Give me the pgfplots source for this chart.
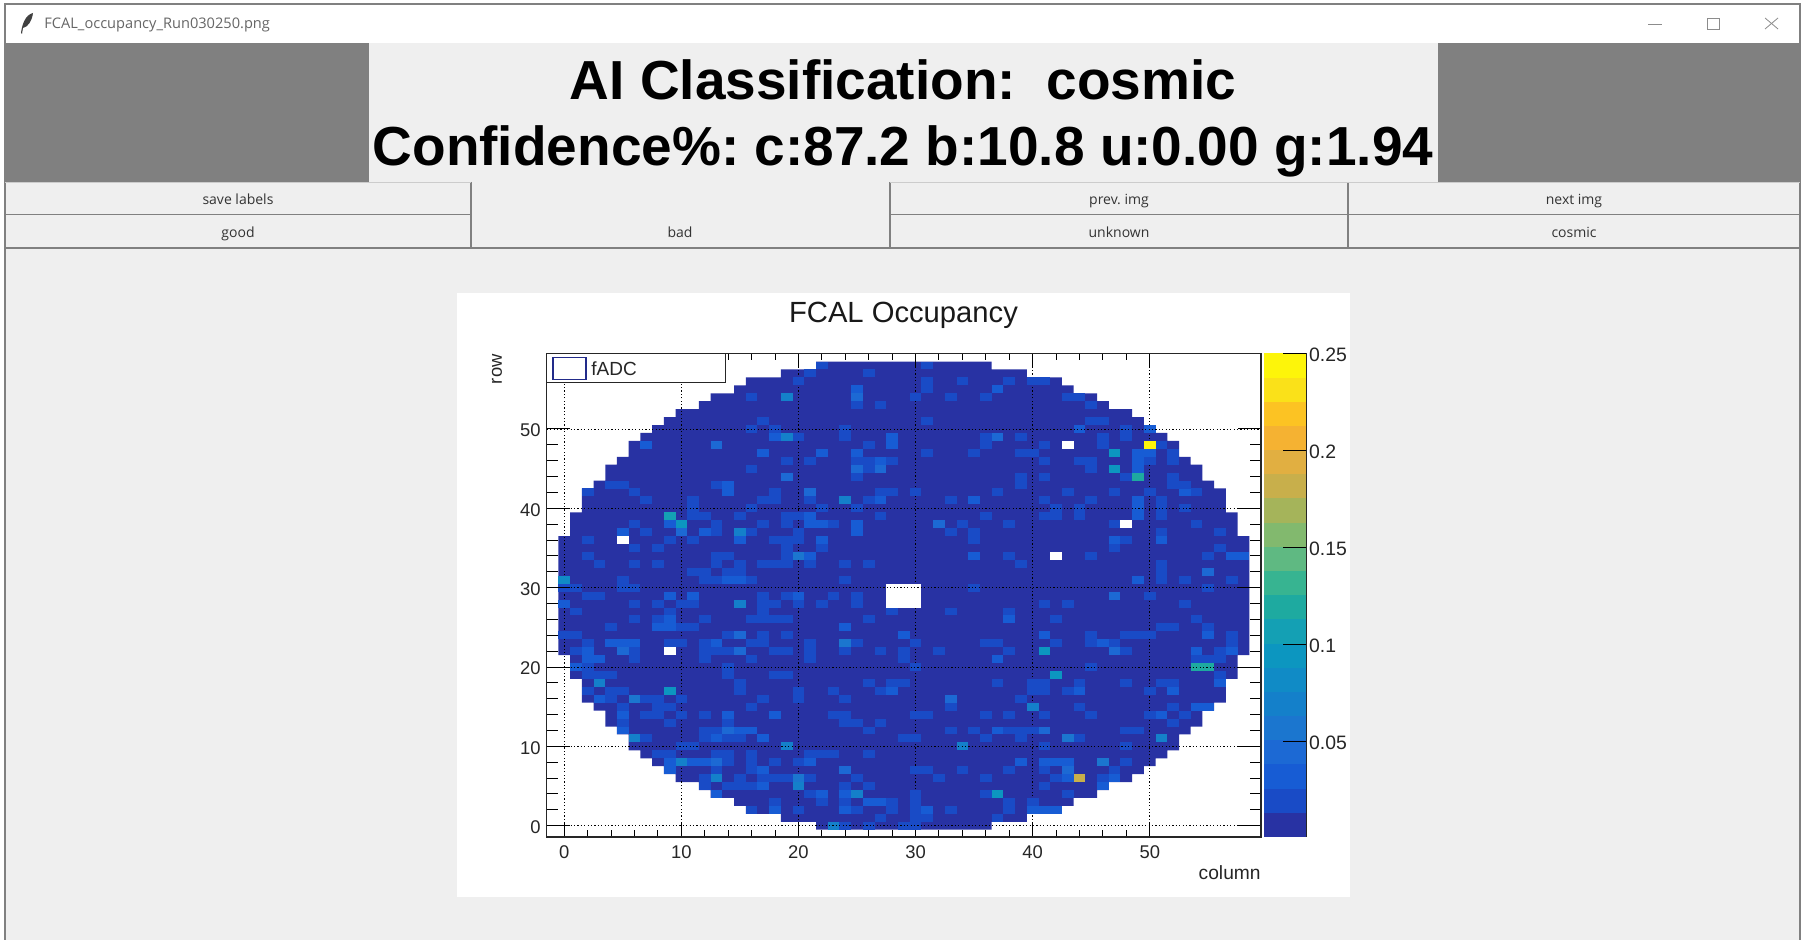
\documentclass[border=0pt]{standalone}
\usepackage{fontspec}
\setmainfont{Liberation Sans}
\newfontfamily\uifont{Open Sans}
\usepackage{pgfplots}
\pgfplotsset{compat=1.18}
\definecolor{b1}{RGB}{40,50,163}\definecolor{b2}{RGB}{25,75,198}\definecolor{b3}{RGB}{23,92,212}\definecolor{b4}{RGB}{28,105,212}
\definecolor{b5}{RGB}{27,118,207}\definecolor{b6}{RGB}{20,128,202}\definecolor{b7}{RGB}{16,139,198}\definecolor{b8}{RGB}{12,150,192}
\definecolor{b9}{RGB}{20,160,180}\definecolor{b10}{RGB}{30,170,160}\definecolor{b11}{RGB}{55,180,145}\definecolor{b12}{RGB}{95,185,130}
\definecolor{b13}{RGB}{130,185,110}\definecolor{b14}{RGB}{165,180,90}\definecolor{b15}{RGB}{200,175,75}\definecolor{b16}{RGB}{225,175,65}
\definecolor{b17}{RGB}{245,178,50}\definecolor{b18}{RGB}{252,195,35}\definecolor{b19}{RGB}{250,225,25}\definecolor{b20}{RGB}{253,245,10}
\definecolor{winbg}{RGB}{239,239,239}\definecolor{gr}{RGB}{128,128,128}
\pgfdeclareplotmark{cell}{\pgfpathrectangle{\pgfpoint{-2.93pt}{-1.985pt}}{\pgfpoint{5.86pt}{3.97pt}}\pgfusepathqfill}
\pgfplotsset{
  rootaxis/.style={at={(273.35pt,51.5pt)},anchor=south west,scale only axis,width=357.15pt,height=241.85pt,
    xmin=-1.5,xmax=59.5,ymin=-1.42,ymax=59.54,axis on top,tick align=inside,
    /pgf/number format/assume math mode=true,
    axis line style={line width=0.6pt,black!85},
    grid style={black,line width=0.45pt,dash pattern=on 0.6pt off 1.1pt},
    minor tick num=4,
    every tick/.style={black,line width=0.5pt},
    tick label style={font=\fontsize{9.2}{10}\selectfont,black!85},
  }
}
\begin{document}
\frenchspacing
\begin{tikzpicture}
\useasboundingbox (0,0) rectangle (902.5pt,470pt);
\begin{scope}[x=0.5pt,y=-0.5pt,yshift=470pt]
\fill[white] (0,0) rectangle (1805,940);
\fill[winbg] (5,43) rectangle (1800,940);
\draw[gr,line width=0.6pt] (5,940)--(5,4)--(1800,4)--(1800,940);
\fill[gr] (5,43) rectangle (369,182);
\fill[gr] (1438,43) rectangle (1800,182);
\foreach \a/\b in {5/471,890/1800}{\draw[gr,line width=0.75pt] (\a,214.5)--(\b,214.5);}
\draw[gr,line width=0.75pt] (5,248)--(1800,248);
\foreach \a in {471,890,1348}{\draw[gr,line width=0.75pt] (\a,182)--(\a,248);}
\draw[gr!40,line width=0.4pt] (5,182)--(471,182) (890,182)--(1800,182);
\fill[black!75] (21,33) .. controls (22,25) and (25,15) .. (33,13) .. controls (32,21) and (28,27) .. (23,28) -- (22,34) -- cycle;
\node[anchor=west,inner sep=0,text=black!60,font=\uifont\fontsize{7.3}{9}\selectfont] at (44,24.5) {FCAL\_occupancy\_Run030250.png};
\draw[black!45,line width=0.4pt] (1648,24)--(1662,24);
\draw[black!45,line width=0.4pt] (1707,18) rectangle (1719,29);
\draw[black!45,line width=0.4pt] (1765,18)--(1778,29) (1765,29)--(1778,18);
\node[inner sep=0,font=\bfseries\fontsize{27.5}{30}\selectfont] at (903,79.5) {AI Classification:\ \ cosmic};
\node[inner sep=0,font=\bfseries\fontsize{27.5}{30}\selectfont] at (903,151.3) {Confidence\%: c:87.2 b:10.8 u:0.00 g:1.94};
\foreach \px/\py/\t in {238/204.5/save labels,1119/204.5/prev. img,1574/204.5/next img,238/238/good,680/238/bad,1119/238/unknown,1574/238/cosmic}{
  \node[anchor=base,inner sep=0,text=black!80,font=\uifont\fontsize{7}{8}\selectfont] at (\px,\py) {\t};}
\fill[white] (457,293) rectangle (1350,897);
\end{scope}
%% main axis: data and x ticks, x grid
\begin{axis}[rootaxis,
  major tick length=7.5pt,minor tick length=3.5pt,
  xtick={0,10,20,30,40,50},ytick=\empty,xmajorgrids,
  xticklabel style={yshift=-1pt},
  colormap={bird}{rgb255=(40,50,163) rgb255=(25,75,198) rgb255=(23,92,212) rgb255=(28,105,212) rgb255=(27,118,207) rgb255=(20,128,202) rgb255=(16,139,198) rgb255=(12,150,192) rgb255=(20,160,180) rgb255=(30,170,160) rgb255=(55,180,145) rgb255=(95,185,130) rgb255=(130,185,110) rgb255=(165,180,90) rgb255=(200,175,75) rgb255=(225,175,65) rgb255=(245,178,50) rgb255=(252,195,35) rgb255=(250,225,25) rgb255=(253,245,10)},
  colormap access=piecewise constant,
  point meta min=0.0005,point meta max=0.25,
]
% occupied region of the detector (lowest occupancy band)
\addplot[fill=b1,draw=none] coordinates {(21.5,-0.5)(36.5,-0.5)(36.5,0.5)(39.5,0.5)(39.5,1.5)(42.5,1.5)(42.5,2.5)(43.5,2.5)(43.5,3.5)(45.5,3.5)(45.5,4.5)(46.5,4.5)(46.5,5.5)(48.5,5.5)(48.5,6.5)(49.5,6.5)(49.5,7.5)(50.5,7.5)(50.5,8.5)(51.5,8.5)(51.5,9.5)(52.5,9.5)(52.5,11.5)(53.5,11.5)(53.5,12.5)(54.5,12.5)(54.5,14.5)(55.5,14.5)(55.5,15.5)(56.5,15.5)(56.5,18.5)(57.5,18.5)(57.5,21.5)(58.5,21.5)(58.5,36.5)(57.5,36.5)(57.5,39.5)(56.5,39.5)(56.5,42.5)(55.5,42.5)(55.5,43.5)(54.5,43.5)(54.5,45.5)(53.5,45.5)(53.5,46.5)(52.5,46.5)(52.5,48.5)(51.5,48.5)(51.5,49.5)(50.5,49.5)(50.5,50.5)(49.5,50.5)(49.5,51.5)(48.5,51.5)(48.5,52.5)(46.5,52.5)(46.5,53.5)(45.5,53.5)(45.5,54.5)(43.5,54.5)(43.5,55.5)(42.5,55.5)(42.5,56.5)(39.5,56.5)(39.5,57.5)(36.5,57.5)(36.5,58.5)(21.5,58.5)(21.5,57.5)(18.5,57.5)(18.5,56.5)(15.5,56.5)(15.5,55.5)(14.5,55.5)(14.5,54.5)(12.5,54.5)(12.5,53.5)(11.5,53.5)(11.5,52.5)(9.5,52.5)(9.5,51.5)(8.5,51.5)(8.5,50.5)(7.5,50.5)(7.5,49.5)(6.5,49.5)(6.5,48.5)(5.5,48.5)(5.5,46.5)(4.5,46.5)(4.5,45.5)(3.5,45.5)(3.5,43.5)(2.5,43.5)(2.5,42.5)(1.5,42.5)(1.5,39.5)(0.5,39.5)(0.5,36.5)(-0.5,36.5)(-0.5,21.5)(0.5,21.5)(0.5,18.5)(1.5,18.5)(1.5,15.5)(2.5,15.5)(2.5,14.5)(3.5,14.5)(3.5,12.5)(4.5,12.5)(4.5,11.5)(5.5,11.5)(5.5,9.5)(6.5,9.5)(6.5,8.5)(7.5,8.5)(7.5,7.5)(8.5,7.5)(8.5,6.5)(9.5,6.5)(9.5,5.5)(11.5,5.5)(11.5,4.5)(12.5,4.5)(12.5,3.5)(14.5,3.5)(14.5,2.5)(15.5,2.5)(15.5,1.5)(18.5,1.5)(18.5,0.5)(21.5,0.5)} --cycle;
% dead channels and beam hole
\addplot[only marks,mark=cell,white] coordinates {(28,28)(29,28)(30,28)(28,29)(29,29)(30,29)(28,30)(29,30)(30,30)(5,36)(43,48)(48,38)(42,34)(9,22)};
% occupied cells above the lowest band
\addplot[scatter,only marks,mark=cell,point meta=explicit] coordinates {
(23,0)[.065](24,0)[.02](26,0)[.02](29,0)[.02](30,0)[.02]
(27,1)[.02](30,1)[.02](31,1)[.02](37,1)[.02]
(16,2)[.02](18,2)[.032](20,2)[.02](24,2)[.032](25,2)[.02](28,2)[.02](30,2)[.02](31,2)[.032](33,2)[.02](38,2)[.02](40,2)[.032](41,2)[.032](42,2)[.032]
(18,3)[.02](22,3)[.02](24,3)[.02](26,3)[.032](27,3)[.032](28,3)[.02](30,3)[.02](38,3)[.02](40,3)[.02]
(13,4)[.032](21,4)[.02](22,4)[.032](24,4)[.032](25,4)[.065](30,4)[.02](36,4)[.02](37,4)[.09](43,4)[.02]
(12,5)[.02](14,5)[.02](15,5)[.02](16,5)[.02](17,5)[.032](20,5)[.07](24,5)[.02](26,5)[.02](41,5)[.02](46,5)[.032]
(12,6)[.02](13,6)[.065](15,6)[.02](17,6)[.02](18,6)[.02](19,6)[.02](20,6)[.055](21,6)[.02](25,6)[.02](32,6)[.02](36,6)[.02](42,6)[.02](43,6)[.032](44,6)[.185](46,6)[.02](47,6)[.032]
(9,7)[.032](13,7)[.02](16,7)[.02](17,7)[.032](24,7)[.05](30,7)[.02](31,7)[.02](34,7)[.02](38,7)[.02](41,7)[.02](43,7)[.045](47,7)[.02]
(9,8)[.032](10,8)[.065](11,8)[.032](12,8)[.032](13,8)[.045](14,8)[.02](16,8)[.02](18,8)[.02](20,8)[.02](21,8)[.032](39,8)[.032](41,8)[.032](42,8)[.032](43,8)[.032](46,8)[.055](48,8)[.02]
(8,9)[.02](9,9)[.02](13,9)[.02](14,9)[.02](16,9)[.02](21,9)[.02](22,9)[.02](23,9)[.02](26,9)[.02]
(10,10)[.02](11,10)[.02](19,10)[.065](34,10)[.07](41,10)[.02](48,10)[.02]
(6,11)[.065](7,11)[.02](12,11)[.02](13,11)[.032](14,11)[.02](15,11)[.02](17,11)[.032](29,11)[.02](30,11)[.02](36,11)[.02](39,11)[.02](43,11)[.055](44,11)[.02](51,11)[.07]
(5,12)[.032](12,12)[.02](13,12)[.02](14,12)[.045](15,12)[.032](16,12)[.032](26,12)[.02](33,12)[.02](35,12)[.02](37,12)[.032](38,12)[.02](39,12)[.02](40,12)[.02](41,12)[.05](48,12)[.02](49,12)[.02]
(5,13)[.02](9,13)[.02](14,13)[.02](24,13)[.02](25,13)[.02](27,13)[.02](52,13)[.02]
(5,14)[.032](7,14)[.02](8,14)[.02](10,14)[.02](12,14)[.02](14,14)[.032](18,14)[.032](23,14)[.02](24,14)[.02](30,14)[.02](31,14)[.02](36,14)[.02](38,14)[.02](41,14)[.02](45,14)[.02](50,14)[.02](51,14)[.032](53,14)[.02]
(5,15)[.02](8,15)[.02](9,15)[.02](16,15)[.02](33,15)[.02](40,15)[.07](44,15)[.02](52,15)[.02](54,15)[.032](55,15)[.032]
(3,16)[.032](4,16)[.02](6,16)[.055](7,16)[.02](8,16)[.02](10,16)[.02](17,16)[.02](20,16)[.02](24,16)[.02](33,16)[.05](39,16)[.02]
(2,17)[.02](4,17)[.02](5,17)[.02](9,17)[.09](15,17)[.02](20,17)[.02](23,17)[.02](27,17)[.02](28,17)[.032](40,17)[.02](41,17)[.02](43,17)[.02](44,17)[.032](50,17)[.02](52,17)[.032]
(3,18)[.065](15,18)[.02](26,18)[.02](28,18)[.02](29,18)[.02](37,18)[.02](40,18)[.02](41,18)[.02](44,18)[.02](48,18)[.02](51,18)[.02](52,18)[.02](56,18)[.032]
(2,19)[.02](3,19)[.02](4,19)[.02](14,19)[.02](18,19)[.02](19,19)[.02](42,19)[.1](56,19)[.02]
(1,20)[.032](2,20)[.02](14,20)[.02](30,20)[.02](45,20)[.02](54,20)[.115](55,20)[.115]
(2,21)[.032](3,21)[.032](6,21)[.02](12,21)[.02](16,21)[.02](21,21)[.02](29,21)[.02](37,21)[.032](54,21)[.02](55,21)[.02](56,21)[.02]
(1,22)[.02](2,22)[.032](5,22)[.05](6,22)[.02](12,22)[.02](13,22)[.02](14,22)[.02](15,22)[.045](18,22)[.02](19,22)[.02](21,22)[.02](24,22)[.02](27,22)[.02](29,22)[.02](32,22)[.02](38,22)[.02](41,22)[.09](47,22)[.045](48,22)[.02](54,22)[.032](56,22)[.02](57,22)[.032]
(2,23)[.02](4,23)[.032](5,23)[.032](6,23)[.032](9,23)[.02](10,23)[.02](12,23)[.02](13,23)[.032](16,23)[.02](17,23)[.02](21,23)[.02](24,23)[.055](25,23)[.02](30,23)[.02](36,23)[.02](37,23)[.02](42,23)[.02](45,23)[.02](46,23)[.032](47,23)[.02](57,23)[.02]
(0,24)[.02](1,24)[.02](14,24)[.02](15,24)[.05](17,24)[.02](19,24)[.02](29,24)[.032](41,24)[.032](45,24)[.02](48,24)[.02](49,24)[.02](50,24)[.02](55,24)[.032](57,24)[.02]
(4,25)[.02](8,25)[.032](9,25)[.032](10,25)[.02](11,25)[.02](24,25)[.032](51,25)[.02](52,25)[.02](55,25)[.02]
(6,26)[.02](8,26)[.02](9,26)[.032](12,26)[.02](16,26)[.02](17,26)[.02](18,26)[.02](19,26)[.02](26,26)[.02](38,26)[.032](42,26)[.02](54,26)[.02]
(1,27)[.02](9,27)[.02](17,27)[.02](28,27)[.02](33,27)[.02](38,27)[.02]
(0,28)[.032](6,28)[.02](8,28)[.02](10,28)[.02](11,28)[.02](15,28)[.065](17,28)[.02](18,28)[.02](20,28)[.02](22,28)[.02](25,28)[.02](41,28)[.02](43,28)[.02](53,28)[.02]
(2,29)[.02](3,29)[.02](9,29)[.032](11,29)[.032](17,29)[.02](19,29)[.02](20,29)[.032](23,29)[.02](25,29)[.02](47,29)[.045](50,29)[.02]
(0,30)[.02](1,30)[.02](5,30)[.02](6,30)[.02](35,30)[.02](55,30)[.02]
(0,31)[.08](5,31)[.02](12,31)[.02](13,31)[.02](14,31)[.032](15,31)[.032](16,31)[.02](24,31)[.02](49,31)[.032](51,31)[.02](53,31)[.02](57,31)[.02]
(11,32)[.02](12,32)[.02](14,32)[.02](15,32)[.02](51,32)[.02](55,32)[.045]
(3,33)[.02](6,33)[.02](8,33)[.02](13,33)[.02](15,33)[.02](17,33)[.02](18,33)[.02](19,33)[.02](21,33)[.02](24,33)[.02](26,33)[.02](39,33)[.02](51,33)[.02]
(2,34)[.02](13,34)[.02](14,34)[.02](19,34)[.02](20,34)[.06](21,34)[.032](35,34)[.032](38,34)[.02](45,34)[.02](55,34)[.02](57,34)[.032](58,34)[.032]
(6,35)[.02](8,35)[.02](19,35)[.02](22,35)[.02](47,35)[.02](56,35)[.02]
(2,36)[.02](9,36)[.02](11,36)[.02](15,36)[.032](18,36)[.02](19,36)[.02](20,36)[.02](22,36)[.032](35,36)[.02](47,36)[.032](48,36)[.02](51,36)[.032]
(5,37)[.032](7,37)[.02](10,37)[.05](12,37)[.032](13,37)[.02](15,37)[.07](16,37)[.02](20,37)[.02](25,37)[.032](33,37)[.02](35,37)[.02](51,37)[.02](56,37)[.02]
(6,38)[.02](9,38)[.032](10,38)[.09](13,38)[.02](17,38)[.02](19,38)[.02](21,38)[.032](22,38)[.032](23,38)[.02](25,38)[.032](32,38)[.05](34,38)[.02](38,38)[.02](47,38)[.02](54,38)[.02]
(9,39)[.11](11,39)[.02](12,39)[.02](15,39)[.02](19,39)[.02](20,39)[.02](21,39)[.032](27,39)[.02](36,39)[.02](41,39)[.02](42,39)[.02](44,39)[.02](49,39)[.032](51,39)[.02]
(11,40)[.02](16,40)[.02](22,40)[.02](25,40)[.02](42,40)[.02](44,40)[.02](49,40)[.032](51,40)[.02](53,40)[.02]
(7,41)[.02](11,41)[.02](17,41)[.02](18,41)[.02](21,41)[.02](24,41)[.07](26,41)[.02](27,41)[.032](33,41)[.02](35,41)[.032](41,41)[.02](45,41)[.02](49,41)[.032](51,41)[.02]
(2,42)[.02](6,42)[.02](14,42)[.032](18,42)[.02](21,42)[.05](27,42)[.02](28,42)[.02](30,42)[.02](37,42)[.02](43,42)[.02](47,42)[.02](50,42)[.02](53,42)[.032](54,42)[.02]
(4,43)[.02](5,43)[.02](13,43)[.02](14,43)[.032](39,43)[.02](52,43)[.02](53,43)[.02]
(19,44)[.05](25,44)[.02](39,44)[.02](41,44)[.02](48,44)[.02](49,44)[.115](52,44)[.02]
(16,45)[.02](25,45)[.05](26,45)[.02](27,45)[.05](45,45)[.02](47,45)[.09](49,45)[.032]
(19,46)[.02](21,46)[.02](25,46)[.02](26,46)[.02](27,46)[.032](28,46)[.02](41,46)[.02](44,46)[.02](45,46)[.02](49,46)[.032](50,46)[.02](52,46)[.02]
(17,47)[.032](22,47)[.032](25,47)[.032](31,47)[.02](35,47)[.02](39,47)[.02](40,47)[.02](47,47)[.09](49,47)[.032](50,47)[.032](52,47)[.02]
(7,48)[.032](13,48)[.05](26,48)[.02](28,48)[.032](36,48)[.02](41,48)[.02](46,48)[.02](50,48)[.245](51,48)[.02]
(18,49)[.032](19,49)[.07](20,49)[.02](24,49)[.02](28,49)[.032](36,49)[.02](37,49)[.045](39,49)[.02](46,49)[.02](48,49)[.02]
(16,50)[.02](18,50)[.02](24,50)[.02](44,50)[.032](48,50)[.02](50,50)[.032]
(17,51)[.02](31,51)[.02](45,51)[.02](46,51)[.02]
(25,53)[.02](27,53)[.02](45,53)[.02]
(16,54)[.02](19,54)[.075](25,54)[.05](30,54)[.02](33,54)[.02](36,54)[.02](43,54)[.02](44,54)[.02]
(25,55)[.032](31,55)[.02](37,55)[.032]
(20,56)[.02](31,56)[.02](34,56)[.02](38,56)[.02](40,56)[.02](41,56)[.02]
(21,57)[.02](26,57)[.02]
(22,58)[.02](31,58)[.02]
};
\end{axis}
%% second frame: y ticks and y grid
\begin{axis}[rootaxis,
  major tick length=11.5pt,minor tick length=5.5pt,
  xtick=\empty,ytick={0,10,20,30,40,50},ymajorgrids,
  yticklabel style={xshift=0.5pt,yshift=-0.7pt},
]
\addplot[draw=none] coordinates {(0,0)};
\end{axis}
%% colour scale
\begin{axis}[at={(632pt,51.5pt)},anchor=south west,scale only axis,width=21pt,height=241.85pt,
  xmin=0,xmax=1,ymin=0.0005,ymax=0.25,
  hide x axis,axis y line*=right,axis on top,
  axis line style={line width=0.5pt,black!85},
  tick align=inside,major tick length=11.5pt,minor tick num=0,
  every tick/.style={black,line width=0.5pt},
  ytick={0.05,0.1,0.15,0.2,0.25},yticklabels={0.05,0.1,0.15,0.2,0.25},
  tick label style={font=\fontsize{9.7}{10}\selectfont,black!85},
  yticklabel style={anchor=west,xshift=-2pt,yshift=-1pt},
]
\addplot[fill=b1,draw=none] coordinates {(0,.0005)(1,.0005)(1,.0130)(0,.0130)} --cycle;
\addplot[fill=b2,draw=none] coordinates {(0,.0130)(1,.0130)(1,.0254)(0,.0254)} --cycle;
\addplot[fill=b3,draw=none] coordinates {(0,.0254)(1,.0254)(1,.0379)(0,.0379)} --cycle;
\addplot[fill=b4,draw=none] coordinates {(0,.0379)(1,.0379)(1,.0504)(0,.0504)} --cycle;
\addplot[fill=b5,draw=none] coordinates {(0,.0504)(1,.0504)(1,.0629)(0,.0629)} --cycle;
\addplot[fill=b6,draw=none] coordinates {(0,.0629)(1,.0629)(1,.0753)(0,.0753)} --cycle;
\addplot[fill=b7,draw=none] coordinates {(0,.0753)(1,.0753)(1,.0878)(0,.0878)} --cycle;
\addplot[fill=b8,draw=none] coordinates {(0,.0878)(1,.0878)(1,.1003)(0,.1003)} --cycle;
\addplot[fill=b9,draw=none] coordinates {(0,.1003)(1,.1003)(1,.1128)(0,.1128)} --cycle;
\addplot[fill=b10,draw=none] coordinates {(0,.1128)(1,.1128)(1,.1253)(0,.1253)} --cycle;
\addplot[fill=b11,draw=none] coordinates {(0,.1253)(1,.1253)(1,.1377)(0,.1377)} --cycle;
\addplot[fill=b12,draw=none] coordinates {(0,.1377)(1,.1377)(1,.1502)(0,.1502)} --cycle;
\addplot[fill=b13,draw=none] coordinates {(0,.1502)(1,.1502)(1,.1627)(0,.1627)} --cycle;
\addplot[fill=b14,draw=none] coordinates {(0,.1627)(1,.1627)(1,.1752)(0,.1752)} --cycle;
\addplot[fill=b15,draw=none] coordinates {(0,.1752)(1,.1752)(1,.1876)(0,.1876)} --cycle;
\addplot[fill=b16,draw=none] coordinates {(0,.1876)(1,.1876)(1,.2001)(0,.2001)} --cycle;
\addplot[fill=b17,draw=none] coordinates {(0,.2001)(1,.2001)(1,.2126)(0,.2126)} --cycle;
\addplot[fill=b18,draw=none] coordinates {(0,.2126)(1,.2126)(1,.2251)(0,.2251)} --cycle;
\addplot[fill=b19,draw=none] coordinates {(0,.2251)(1,.2251)(1,.2375)(0,.2375)} --cycle;
\addplot[fill=b20,draw=none] coordinates {(0,.2375)(1,.2375)(1,.25)(0,.25)} --cycle;
\end{axis}
\begin{scope}[x=0.5pt,y=-0.5pt,yshift=470pt]
\node[inner sep=0,font=\fontsize{14.6}{16}\selectfont,text=black!90] at (903.5,315.5) {FCAL Occupancy};
\node[inner sep=0,rotate=90,anchor=east,font=\fontsize{9.2}{10}\selectfont,text=black!85] at (497,354) {row};
\node[inner sep=0,anchor=east,font=\fontsize{9.6}{10}\selectfont,text=black!85] at (1261,873) {column};
\fill[white,draw=black!85,line width=0.5pt] (546.7,353.3) rectangle (725,382.7);
\draw[b1!85!black,line width=0.7pt] (553,357.7) rectangle (586,379.3);
\node[anchor=west,inner sep=0,font=\fontsize{9.5}{10}\selectfont,text=black!85] at (591,368.5) {fADC};
\end{scope}
\end{tikzpicture}
\end{document}
